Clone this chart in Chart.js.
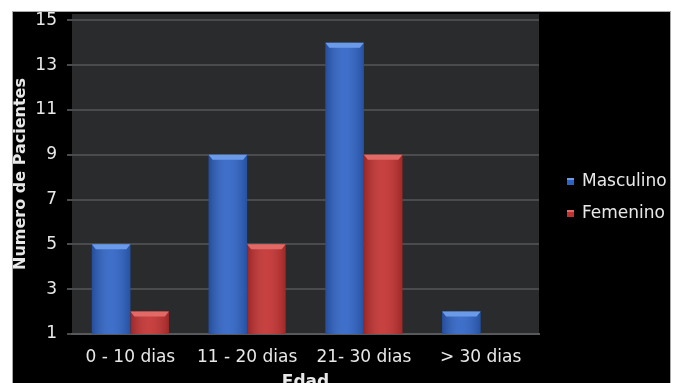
<!DOCTYPE html>
<html>
<head>
<meta charset="utf-8">
<script src="https://cdn.jsdelivr.net/npm/chart.js@4"></script>
<style>
  html, body { margin: 0; padding: 0; background: #fff; }
  #frame {
    position: absolute; left: 12px; top: 11px;
    width: 657px; height: 372px;
    border: 1px solid #a8a8a8; border-bottom: none;
    background: #000;
  }
  canvas { display: block; }
</style>
</head>
<body>
<div id="frame"><canvas id="edadChart" width="657" height="372"></canvas></div>
<script>
// ── Data ────────────────────────────────────────────────────────────
const categories = ['0 - 10 dias', '11 - 20 dias', '21- 30 dias', '> 30 dias'];
const masculino  = [5, 9, 14, 2];
const femenino   = [2, 5, 9, null];
const yTicks     = [1, 3, 5, 7, 9, 11, 13, 15];

const TEXT = '#e8e8e8';
const FONT = 'DejaVu Sans';

// ── Dark plot background ────────────────────────────────────────────
const plotBg = {
  id: 'plotBg',
  beforeDraw(chart) {
    const a = chart.chartArea, c = chart.ctx;
    c.save();
    c.fillStyle = '#2a2b2d';
    c.fillRect(a.left, a.top, a.right - a.left, a.bottom - a.top);
    c.restore();
  }
};

// ── Rounded/bevelled look on each bar ───────────────────────────────
const shade = {
  id: 'shade',
  afterDatasetsDraw(chart) {
    const c = chart.ctx, a = chart.chartArea;
    c.save();
    c.beginPath();
    c.rect(a.left, a.top, a.right - a.left, a.bottom - a.top);
    c.clip();
    chart.data.datasets.forEach(function(ds, i) {
      chart.getDatasetMeta(i).data.forEach(function(bar, j) {
        if (ds.data[j] == null) return;
        const p = bar.getProps(['x', 'y', 'width'], true);
        const l = p.x - p.width / 2, r = p.x + p.width / 2;
        const g = c.createLinearGradient(l, 0, r, 0);
        g.addColorStop(0, 'rgba(0,0,0,0.22)');
        g.addColorStop(0.5, 'rgba(255,255,255,0.08)');
        g.addColorStop(1, 'rgba(0,0,0,0.18)');
        c.fillStyle = g;
        c.fillRect(l, p.y, p.width, a.bottom - p.y);
        c.beginPath();
        c.moveTo(l, p.y); c.lineTo(r, p.y);
        c.lineTo(r - 4, p.y + 5); c.lineTo(l + 4, p.y + 5);
        c.closePath();
        c.fillStyle = ds.bevel;
        c.fill();
      });
    });
    c.restore();
  }
};

// ── Legend to the right of the plot ─────────────────────────────────
const sideLegend = {
  id: 'sideLegend',
  afterDraw(chart) {
    const c = chart.ctx, x0 = chart.chartArea.right + 28;
    c.save();
    c.font = '17px "' + FONT + '"';
    c.textBaseline = 'middle';
    c.textAlign = 'left';
    chart.data.datasets.forEach(function(ds, i) {
      const y = chart.height / 2 - 16 + i * 32;
      c.fillStyle = ds.backgroundColor;
      c.fillRect(x0, y - 4, 7, 7);
      c.fillStyle = ds.bevel;
      c.fillRect(x0, y - 4, 7, 2);
      c.fillStyle = TEXT;
      c.fillText(ds.label, x0 + 15, y);
    });
    c.restore();
  }
};

new Chart(document.getElementById('edadChart'), {
  type: 'bar',
  data: {
    labels: categories,
    datasets: [
      { label: 'Masculino', data: masculino, backgroundColor: '#2e63c6', bevel: '#6b9be8' },
      { label: 'Femenino',  data: femenino,  backgroundColor: '#c33130', bevel: '#e26a66' }
    ]
  },
  options: {
    responsive: false,
    animation: false,
    layout: { padding: { top: 2, right: 131 } },
    datasets: { bar: { categoryPercentage: 0.66, barPercentage: 1 } },
    plugins: { legend: { display: false }, tooltip: { enabled: false } },
    scales: {
      x: {
        grid: { display: false, drawTicks: false },
        border: { display: true, color: '#58595b', width: 2 },
        ticks: { color: TEXT, font: { family: FONT, size: 17 }, padding: 13, maxRotation: 0 },
        title: { display: true, text: 'Edad', color: TEXT, font: { family: FONT, size: 17, weight: 'bold' }, padding: { top: 0, bottom: -9 } },
        afterFit(s) { s.height = 50; s.paddingLeft = 0; s.paddingRight = 0; }
      },
      y: {
        min: 1,
        max: 15.28,
        afterBuildTicks(s) { s.ticks = yTicks.map(v => ({ value: v })); },
        grid: { color: '#4a4b4d', lineWidth: 2, tickLength: 5 },
        border: { display: false },
        ticks: { color: TEXT, font: { family: FONT, size: 17 }, padding: 10 },
        title: { display: true, text: 'Numero de Pacientes', color: TEXT, font: { family: FONT, size: 16, weight: 'bold' }, padding: { top: -2, bottom: 0 } },
        afterFit(s) { s.width = 59; s.paddingTop = 0; s.paddingBottom = 0; }
      }
    }
  },
  plugins: [plotBg, shade, sideLegend]
});
</script>
</body>
</html>
